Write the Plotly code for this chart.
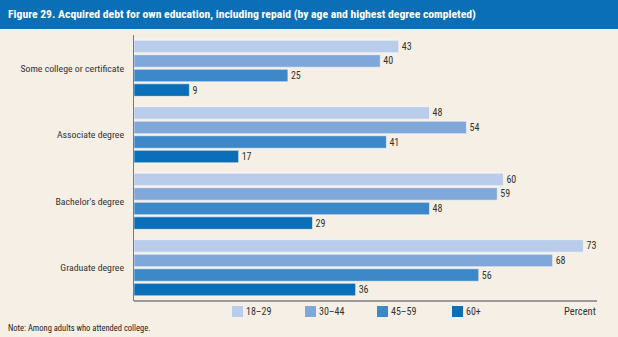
import plotly.graph_objects as go

categories = ["Some college or certificate", "Associate degree", "Bachelor's degree", "Graduate degree"]
age_groups = ["18–29", "30–44", "45–59", "60+"]
values_18_29 = [43, 48, 60, 73]
values_30_44 = [40, 54, 59, 68]
values_45_59 = [25, 41, 48, 56]
values_60_plus = [9, 17, 29, 36]
series = [values_18_29, values_30_44, values_45_59, values_60_plus]
colors = ["#b9cce9", "#7fa7d9", "#3d88c8", "#0a6fb8"]

FONT = "Roboto Condensed, Liberation Sans Narrow, Arial Narrow, sans-serif"
W, H = 618, 337
L, R, T, B = 134, 21, 35, 36
PW, PH = W - L - R, H - T - B


def px(X):
    return (X - L) / PW


def py(Y):
    return (H - B - Y) / PH


fig = go.Figure()
for name, vals, col in zip(age_groups, series, colors):
    fig.add_trace(go.Bar(
        y=categories, x=vals, name=name, orientation="h",
        marker=dict(color=col, line=dict(color="rgba(255,255,255,0.55)", width=1)),
        text=[str(v) for v in vals], textposition="outside", cliponaxis=False,
        textfont=dict(family=FONT, size=10, color="#333333"),
        constraintext="none", showlegend=False,
    ))

shapes = [
    dict(type="rect", xref="paper", yref="paper", x0=px(0), x1=px(W), y0=py(0), y1=py(29),
         fillcolor="#0b6fb7", line=dict(width=0), layer="below"),
    dict(type="line", xref="paper", yref="paper", x0=0, x1=1, y0=0, y1=0,
         line=dict(color="#9a9a9a", width=2)),
]
annotations = [
    dict(text="<b>Figure 29. Acquired debt for own education, including repaid (by age and highest degree completed)</b>",
         xref="paper", yref="paper", x=px(6), y=py(14.5), xanchor="left", yanchor="middle",
         showarrow=False, font=dict(family=FONT, size=11.7, color="white")),
    dict(text="Note: Among adults who attended college.", xref="paper", yref="paper",
         x=px(6), y=py(328), xanchor="left", yanchor="middle", showarrow=False,
         font=dict(family=FONT, size=8.5, color="#222222")),
    dict(text="Percent", xref="paper", yref="paper", x=px(598), y=py(311),
         xanchor="right", yanchor="middle", showarrow=False,
         font=dict(family=FONT, size=10.5, color="#333333")),
]
sq_x = [232, 305, 377, 452]
for name, col, sx in zip(age_groups, colors, sq_x):
    shapes.append(dict(type="rect", xref="paper", yref="paper", x0=px(sx), x1=px(sx + 11),
                       y0=py(306), y1=py(317), fillcolor=col, line=dict(width=0)))
    annotations.append(dict(text=name, xref="paper", yref="paper", x=px(sx + 12), y=py(311),
                            xanchor="left", yanchor="middle", showarrow=False,
                            font=dict(family=FONT, size=10, color="#333333")))

fig.update_layout(
    width=W, height=H,
    margin=dict(l=L, r=R, t=T, b=B, pad=0),
    paper_bgcolor="#f6efe5", plot_bgcolor="#f6efe5",
    barmode="group", bargap=0.125, bargroupgap=0.14,
    xaxis=dict(range=[0, 75.2], showgrid=False, zeroline=False, showticklabels=False,
               ticks="", showline=False, fixedrange=True, automargin=False),
    yaxis=dict(autorange="reversed", showgrid=False, zeroline=False, showline=True,
               linecolor="#7a7a7a", linewidth=1, ticks="", ticklabelstandoff=7,
               automargin=False,
               tickfont=dict(family=FONT, size=9.8, color="#333333"), fixedrange=True),
    shapes=shapes, annotations=annotations,
)

fig.write_html("out.html", config={"displayModeBar": False})
